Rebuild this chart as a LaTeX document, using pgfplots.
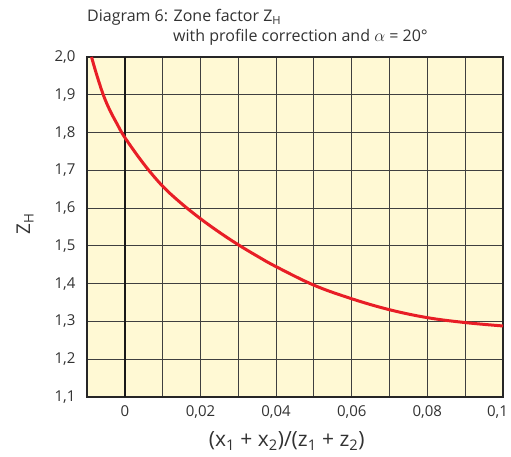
\documentclass[border=0pt]{standalone}
\usepackage{fontspec}
\setmainfont{Open Sans}
\usepackage{pgfplots}
\pgfplotsset{compat=1.18}
\usetikzlibrary{calc}
\definecolor{cream}{RGB}{255,249,212}
\definecolor{curve}{RGB}{232,30,38}
\definecolor{txt}{RGB}{50,50,50}

\begin{document}
\begin{tikzpicture}
\begin{axis}[
  name=ax,
  scale only axis,
  width=416pt, height=340pt,
  xmin=-0.01, xmax=0.1,
  ymin=1.1, ymax=2.0,
  xtick={0,0.02,0.04,0.06,0.08,0.1},
  xticklabels={0,{0,02},{0,04},{0,06},{0,08},{\hspace*{-11pt}0,1}},
  minor xtick={-0.01,0.01,0.03,0.05,0.07,0.09},
  ytick={1.1,1.2,1.3,1.4,1.5,1.6,1.7,1.8,1.9,2.0},
  grid=both,
  grid style={black!75, line width=0.9pt},
  minor grid style={black!75, line width=0.9pt},
  major tick length=0pt, minor tick length=0pt,
  axis line style={black!85, line width=1.6pt},
  axis background/.style={fill=cream},
  /pgf/number format/assume math mode=true,
  /pgf/number format/use comma,
  xticklabel style={font=\fontsize{15}{17}\selectfont, text=txt, yshift=-5pt},
  yticklabel style={/pgf/number format/fixed, /pgf/number format/fixed zerofill,
    /pgf/number format/precision=1,
    font=\fontsize{15}{17}\selectfont, text=txt, xshift=-8pt},
  xlabel={(x\textsubscript{1} + x\textsubscript{2})/(z\textsubscript{1} + z\textsubscript{2})},
  xlabel style={at={(axis description cs:0.48,0)}, anchor=center, yshift=-44pt,
    font=\fontsize{21}{24}\selectfont, text=txt},
  ylabel={Z\textsubscript{H}},
  ylabel style={at={(axis description cs:-0.149,0.51)}, anchor=center,
    font=\fontsize{19}{22}\selectfont, text=txt},
  clip=true,
]
\draw[black!90, line width=2pt] (axis cs:0,1.1) -- (axis cs:0,2.0);
\addplot[curve, line width=3pt, smooth, tension=0.6] coordinates {
  (-0.0088,2.000) (-0.0075,1.955) (-0.0057,1.900) (-0.004,1.860)
  (-0.002,1.822) (0,1.787) (0.005,1.717) (0.01,1.658) (0.015,1.612)
  (0.02,1.572) (0.025,1.536) (0.03,1.503) (0.035,1.473) (0.04,1.445)
  (0.05,1.396) (0.06,1.360) (0.07,1.331) (0.08,1.310) (0.09,1.297)
  (0.1,1.288)
};
\end{axis}
\node[anchor=base west, font=\fontsize{16}{18}\selectfont, text=txt, inner sep=0pt]
  at ($(ax.north west)+(0,35pt)$) {Diagram 6: Zone factor Z\textsubscript{H}};
\node[anchor=base west, font=\fontsize{16}{18}\selectfont, text=txt, inner sep=0pt]
  at ($(ax.north west)+(86pt,15pt)$) {with profile correction and $\alpha$ = 20°};
\pgfresetboundingbox
\path[use as bounding box] ($(ax.south west)+(-87pt,-60pt)$) rectangle ($(ax.north east)+(8pt,57pt)$);
\end{tikzpicture}
\end{document}
